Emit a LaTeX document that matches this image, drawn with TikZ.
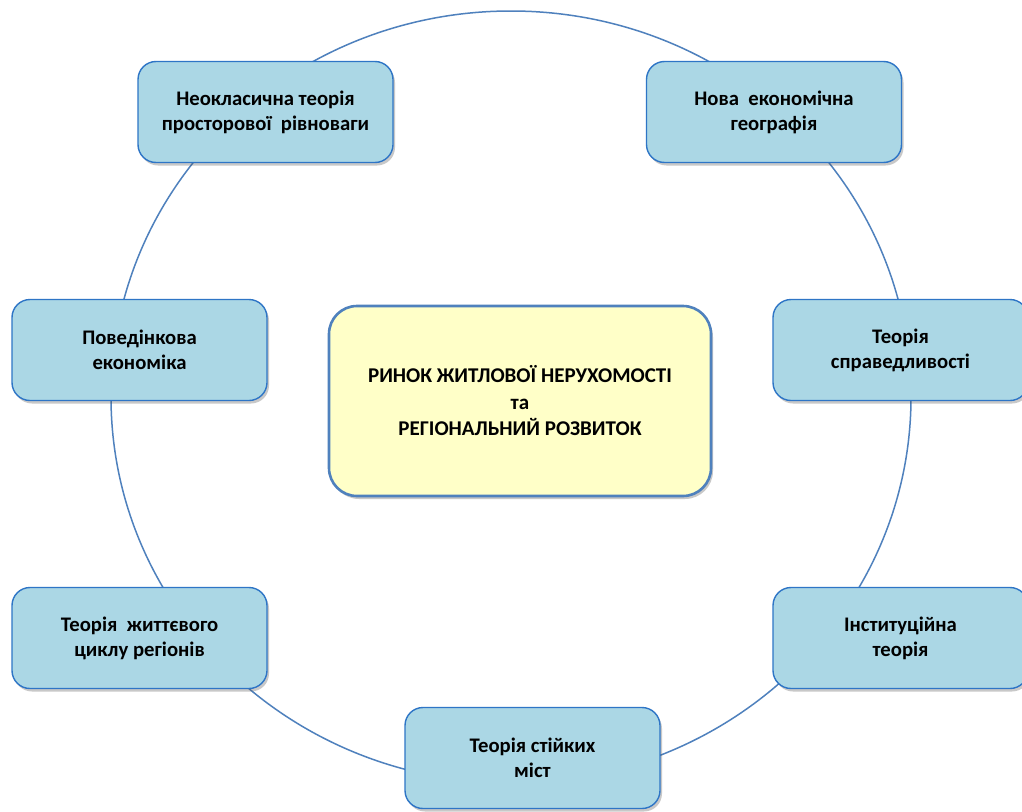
\documentclass[tikz,border=0pt]{standalone}
\usepackage{fontspec}
\setmainfont{Carlito}
\usetikzlibrary{shadows}
\definecolor{boxfill}{RGB}{171,215,229}
\definecolor{boxborder}{RGB}{46,117,198}
\definecolor{ringcol}{RGB}{79,129,189}
\definecolor{corefill}{RGB}{255,255,200}
\definecolor{coreborder}{RGB}{79,129,189}
\begin{document}
\begin{tikzpicture}[x=1pt,y=-1pt,
  theory/.style={draw=boxborder, line width=1.4pt, fill=boxfill,
    rounded corners=18pt, minimum width=255pt, minimum height=101pt,
    inner sep=0pt, align=center,
    font=\bfseries\fontsize{20.7}{25}\selectfont,
    drop shadow={shadow xshift=2pt, shadow yshift=-3pt, opacity=0.3, fill=black!70}},
  core/.style={draw=coreborder, line width=2.6pt, fill=corefill,
    rounded corners=28pt, minimum width=382pt, minimum height=190pt,
    inner sep=0pt, align=center,
    font=\bfseries\fontsize{21}{26.5}\selectfont,
    drop shadow={shadow xshift=2pt, shadow yshift=-3pt, opacity=0.3, fill=black!70}},
  ring/.style={draw=ringcol, line width=1.5pt}]
\useasboundingbox (0,0) rectangle (1022,811);
\clip (0,0) rectangle (1022,811);
\fill[white] (0,0) rectangle (1022,811);
\draw[ring] (511,397) ellipse [x radius=400, y radius=386];
\node[theory] (neo) at (265.5,112) {Неокласична теорія\\просторової\ \ рівноваги};
\node[theory] (nova) at (774,112) {Нова\ \ економічна\\географія};
\node[theory] (behav) at (139.5,350) {Поведінкова\\економіка};
\node[theory] (just) at (900.5,350) {Теорія\\справедливості};
\node[core] (centre) at (520,401) {РИНОК ЖИТЛОВОЇ НЕРУХОМОСТІ\\та\\РЕГІОНАЛЬНИЙ РОЗВИТОК};
\node[theory] (life) at (139.5,638) {Теорія\ \ життєвого\\циклу регіонів};
\node[theory] (inst) at (900.5,638) {Інституційна\\теорія};
\node[theory] (sust) at (532.5,758) {Теорія\ стійких\\міст};
\end{tikzpicture}
\end{document}
